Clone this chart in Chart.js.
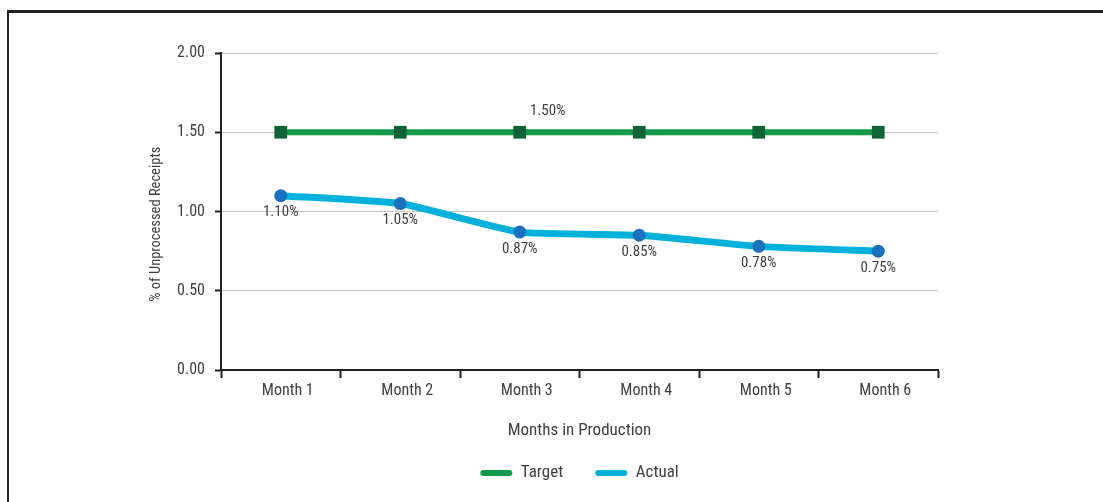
<!DOCTYPE html>
<html lang="en">
<head>
  <meta charset="UTF-8">
  <title>% of Unprocessed Receipts</title>
  <script src="https://cdn.jsdelivr.net/npm/chart.js"></script>
  <style>
    body {
      margin: 0;
      background: #fff;
    }
    .wrap {
      position: relative;
      width: 1103px;
      height: 502px;
      overflow: hidden;
    }
    /* dark frame, top and left edges only visible */
    .frame {
      position: absolute;
      left: 7px;
      top: 10px;
      width: 1200px;
      height: 600px;
      border-top: 3px solid #231f20;
      border-left: 2px solid #231f20;
    }
    canvas {
      position: absolute;
      left: 0;
      top: 0;
    }
  </style>
</head>
<body>
  <div class="wrap">
    <div class="frame"></div>
    <canvas id="chart" width="1103" height="502"></canvas>
  </div>

  <script>
    // Data
    const months = ['Month 1', 'Month 2', 'Month 3', 'Month 4', 'Month 5', 'Month 6'];
    const targetValues = [1.5, 1.5, 1.5, 1.5, 1.5, 1.5];
    const actualValues = [1.10, 1.05, 0.87, 0.85, 0.78, 0.75];
    const yTicks = [0, 0.5, 1.0, 1.5, 2.0];
    const targetLabelIndex = 2; // only one target value is labelled

    const FONT = "'Liberation Sans Narrow', 'Roboto Condensed', 'Arial Narrow', Roboto, sans-serif";
    const TEXT = '#414042';
    const AXIS = '#231f20';

    // value labels: actual under each point, target once above
    const valueLabels = {
      id: 'valueLabels',
      afterDatasetsDraw(chart) {
        const ctx = chart.ctx;
        ctx.save();
        ctx.font = '15px ' + FONT;
        ctx.fillStyle = TEXT;
        ctx.textAlign = 'center';
        ctx.textBaseline = 'middle';
        chart.getDatasetMeta(1).data.forEach((pt, i) => {
          ctx.fillText(actualValues[i].toFixed(2) + '%', pt.x, pt.y + 17);
        });
        const tp = chart.getDatasetMeta(0).data[targetLabelIndex];
        ctx.fillText(targetValues[targetLabelIndex].toFixed(2) + '%', tp.x + 28, tp.y - 21);
        ctx.restore();
      }
    };

    new Chart(document.getElementById('chart'), {
      type: 'line',
      data: {
        labels: months,
        datasets: [{
          label: 'Target',
          data: targetValues,
          borderColor: '#11994a',
          backgroundColor: '#11994a',
          borderWidth: 6,
          pointStyle: 'rect',
          pointRadius: 9,
          pointBorderWidth: 0,
          pointBackgroundColor: '#0e6437',
          tension: 0
        }, {
          label: 'Actual',
          data: actualValues,
          borderColor: '#00b1dc',
          backgroundColor: '#00b1dc',
          borderWidth: 7,
          pointStyle: 'circle',
          pointRadius: 6.5,
          pointBorderWidth: 0,
          pointBackgroundColor: '#1a71bd',
          tension: 0.15
        }]
      },
      options: {
        responsive: false,
        animation: false,
        layout: {
          padding: { left: 140, right: 165, top: 53, bottom: 10.5 }
        },
        scales: {
          x: {
            offset: true,
            grid: {
              offset: true,
              drawOnChartArea: false,
              drawTicks: true,
              tickLength: 8,
              tickColor: AXIS,
              tickWidth: 2
            },
            border: { color: AXIS, width: 2 },
            ticks: {
              color: TEXT,
              font: { family: FONT, size: 16 },
              padding: 3,
              labelOffset: 7,
              maxRotation: 0
            },
            title: {
              display: true,
              text: 'Months in Production',
              color: TEXT,
              font: { family: FONT, size: 17 },
              padding: { top: 0, bottom: -8 }
            },
            afterFit(scale) { scale.height = 62.5; }
          },
          y: {
            min: 0,
            max: 2,
            afterBuildTicks(scale) { scale.ticks = yTicks.map(v => ({ value: v })); },
            grid: {
              color: '#c4c4c4',
              lineWidth: 1,
              drawTicks: true,
              tickLength: 6,
              tickColor: AXIS,
              tickWidth: 2
            },
            border: { color: AXIS, width: 2 },
            ticks: {
              color: TEXT,
              font: { family: FONT, size: 16 },
              padding: 10,
              callback: v => Number(v).toFixed(2)
            },
            title: {
              display: true,
              // trailing em spaces push the title a little below the axis centre, as in the original
              text: '% of Unprocessed Receipts\u2003\u2003',
              color: TEXT,
              font: { family: FONT, size: 14.5 },
              padding: { top: 8, bottom: 0 }
            },
            afterFit(scale) { scale.width = 81; }
          }
        },
        plugins: {
          legend: {
            position: 'bottom',
            fullSize: false,
            labels: {
              color: TEXT,
              font: { family: FONT, size: 17 },
              boxWidth: 32,
              boxHeight: 6,
              padding: 32,
              useBorderRadius: true,
              borderRadius: 3,
              generateLabels(chart) {
                return Chart.defaults.plugins.legend.labels.generateLabels(chart).map(item => {
                  const ds = chart.data.datasets[item.datasetIndex];
                  item.fillStyle = ds.borderColor;
                  item.strokeStyle = ds.borderColor;
                  item.lineWidth = 0;
                  return item;
                });
              }
            }
          },
          tooltip: { enabled: false }
        }
      },
      plugins: [valueLabels]
    });
  </script>
</body>
</html>
